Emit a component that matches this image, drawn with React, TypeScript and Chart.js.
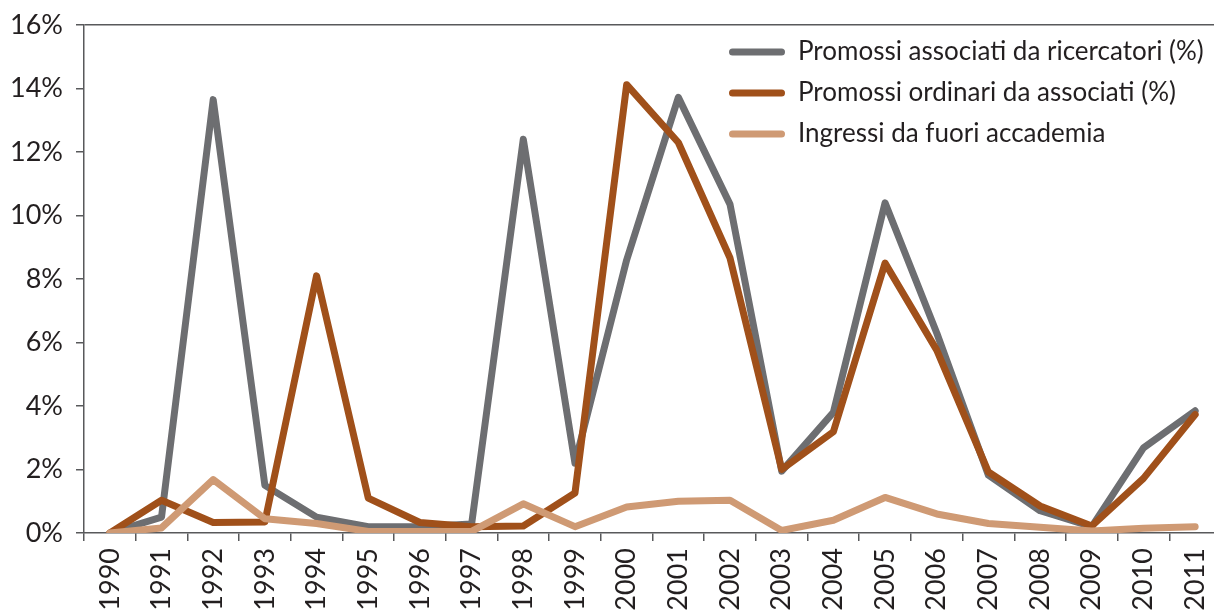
import React, { useEffect, useRef } from "react";
import { Chart, registerables } from "chart.js";

Chart.register(...registerables);

const years = ["1990","1991","1992","1993","1994","1995","1996","1997","1998","1999","2000","2001","2002","2003","2004","2005","2006","2007","2008","2009","2010","2011"];
const associatiDaRicercatori = [0, 0.5, 13.65, 1.5, 0.5, 0.2, 0.2, 0.28, 12.4, 2.2, 8.6, 13.72, 10.35, 1.95, 3.8, 10.4, 6.3, 1.82, 0.7, 0.2, 2.68, 3.85];
const ordinariDaAssociati = [0, 1.03, 0.33, 0.35, 8.1, 1.1, 0.33, 0.2, 0.22, 1.26, 14.12, 12.3, 8.66, 2.0, 3.19, 8.5, 5.76, 1.92, 0.85, 0.22, 1.72, 3.73];
const ingressiFuori = [0, 0.16, 1.68, 0.45, 0.3, 0.05, 0.05, 0.05, 0.92, 0.2, 0.82, 1.0, 1.03, 0.08, 0.4, 1.12, 0.6, 0.3, 0.18, 0.06, 0.15, 0.2];
const seriesNames = ["Promossi associati da ricercatori (%)", "Promossi ordinari da associati (%)", "Ingressi da fuori accademia"];
const seriesColors = ["#6D6E71", "#A0501A", "#CF9A74"];
const yTicks = [0, 2, 4, 6, 8, 10, 12, 14, 16];

const FONT = "Lato";
const TEXT = "#231F20";
const AXIS = "#58595B";

export default function App() {
  const ref = useRef<HTMLCanvasElement | null>(null);
  useEffect(() => {
    if (!ref.current) return;
    const legendPlacer = {
      id: "legendPlacer",
      afterLayout(chart: any) {
        const l = chart.legend;
        if (!l) return;
        const ca = chart.chartArea;
        const w = l.width;
        const h = l.height;
        l.left = ca.left + 630;
        l.right = l.left + w;
        l.top = ca.top - 1;
        l.bottom = l.top + h;
      },
    };
    const chart = new Chart(ref.current, {
      type: "line",
      data: {
        labels: years,
        datasets: [associatiDaRicercatori, ordinariDaAssociati, ingressiFuori].map((d, i) => ({
          label: seriesNames[i],
          data: d,
          borderColor: seriesColors[i],
          backgroundColor: seriesColors[i],
          borderWidth: 7,
          pointRadius: 0,
          tension: 0,
          borderJoinStyle: "round" as const,
          borderCapStyle: "round" as const,
          order: 3 - i,
        })),
      },
      options: {
        animation: false,
        responsive: false,
        devicePixelRatio: 1,
        layout: { padding: { left: 0, top: 25, right: 19, bottom: 0 } },
        plugins: {
          tooltip: { enabled: false },
          legend: {
            position: "chartArea",
            align: "start",
            labels: {
              boxWidth: 56,
              boxHeight: 7,
              padding: 15,
              color: TEXT,
              font: { family: FONT, size: 26 },
              useBorderRadius: true,
              borderRadius: 3.5,
              generateLabels: (chart: any) =>
                chart.data.datasets.map((ds: any, i: number) => ({
                  text: ds.label,
                  fillStyle: ds.borderColor,
                  strokeStyle: ds.borderColor,
                  lineWidth: 0,
                  hidden: false,
                  datasetIndex: i,
                  fontColor: TEXT,
                  borderRadius: 3.5,
                })),
            },
          },
        },
        scales: {
          x: {
            type: "category",
            offset: true,
            afterFit: (s: any) => { s.height = 117; s.paddingLeft = 0; s.paddingRight = 0; },
            grid: { display: true, drawOnChartArea: false, drawTicks: true, tickLength: 8, offset: true, color: AXIS, lineWidth: 1.5 },
            border: { display: true, color: AXIS, width: 1.5 },
            ticks: { minRotation: 90, maxRotation: 90, autoSkip: false, padding: 7, color: TEXT, font: { family: FONT, size: 27 } },
          },
          y: {
            min: 0,
            max: 16,
            afterFit: (s: any) => { s.width = 84; s.paddingTop = 0; s.paddingBottom = 0; },
            afterBuildTicks: (s: any) => { s.ticks = yTicks.map((v) => ({ value: v })); },
            grid: {
              display: true,
              drawTicks: true,
              tickLength: 8,
              lineWidth: 1.5,
              color: (c: any) => (c.tick && c.tick.value === 16 ? AXIS : "rgba(0,0,0,0)"),
              tickColor: AXIS,
            },
            border: { display: true, color: AXIS, width: 1.5 },
            ticks: { padding: 13, color: TEXT, font: { family: FONT, size: 27 }, callback: (v: any) => v + "%" },
          },
        },
      },
      plugins: [legendPlacer],
    });
    return () => chart.destroy();
  }, []);
  return (
    <div style={{ position: "absolute", left: 0, top: 0, width: 1214, height: 612, overflow: "hidden", background: "#fff" }}>
      <canvas ref={ref} width={1240} height={650} style={{ display: "block" }} />
    </div>
  );
}
